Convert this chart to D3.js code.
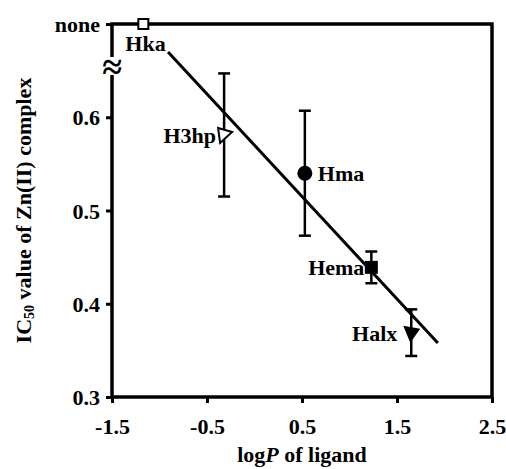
<!DOCTYPE html>
<html>
<head>
<meta charset="utf-8">
<script src="https://cdn.jsdelivr.net/npm/d3@7/dist/d3.min.js"></script>
<style>
  body { margin: 0; background: #fff; }
  svg text { font-family: "Liberation Serif", "Times New Roman", serif; font-weight: bold; fill: #000; }
</style>
</head>
<body>
<svg id="chart" width="506" height="469"></svg>
<script>
//Data
const ligands = ["Hka", "H3hp", "Hma", "Hema", "Halx"];
const logP = [-1.17, -0.32, 0.53, 1.23, 1.65];
const ic50 = [0.7, 0.581, 0.540, 0.439, 0.369];   //Hka has no activity ("none" row)
const ic50Err = [0, 0.066, 0.067, 0.017, 0.025];
const markers = ["openSquare", "openTriRight", "circle", "square", "triDown"];

//Regression line end points
const fitX = [-0.91, 1.93];
const fitY = [0.670, 0.358];

const xTicks = [-1.5, -0.5, 0.5, 1.5, 2.5];
const yTicks = [0.3, 0.4, 0.5, 0.6];
const yTopLabel = "none";

//Layout
const margin = {left: 112, top: 24, right: 14, bottom: 72};
const width = 506 - margin.left - margin.right;
const height = 469 - margin.top - margin.bottom;

var svg = d3.select("#chart");
var g = svg.append("g")
    .attr("transform", "translate(" + margin.left + "," + margin.top + ")");

var x = d3.scaleLinear().domain([-1.5, 2.5]).range([0, width]);
var y = d3.scaleLinear().domain([0.3, 0.7]).range([height, 0]);

//plain hyphen for negatives, like the original
var fmt = function(d) { return d.toFixed(1); };

//Frame
g.append("rect")
    .attr("width", width)
    .attr("height", height)
    .attr("fill", "none")
    .attr("stroke", "black")
    .attr("stroke-width", 3.5);

//X axis
var xAxis = g.append("g")
    .attr("transform", "translate(0," + height + ")")
    .call(d3.axisBottom(x).tickValues(xTicks).tickSize(6).tickPadding(15).tickFormat(fmt));
xAxis.select(".domain").remove();
xAxis.selectAll(".tick line").attr("stroke-width", 3);
xAxis.selectAll(".tick text").style("font-size", "22px");

//Y axis
var yAxis = g.append("g")
    .call(d3.axisLeft(y).tickValues(yTicks.concat([0.7])).tickSize(6).tickPadding(6)
        .tickFormat(function(d) { return d === 0.7 ? yTopLabel : fmt(d); }));
yAxis.select(".domain").remove();
yAxis.selectAll(".tick line").attr("stroke-width", 3);
yAxis.selectAll(".tick text").style("font-size", "22px").attr("dy", "0.35em");

//Axis break on the left
var breakY = y(0.655);
g.append("rect")
    .attr("x", -6).attr("y", breakY - 9)
    .attr("width", 12).attr("height", 18)
    .attr("fill", "white");
g.append("text")
    .attr("x", 0).attr("y", breakY)
    .attr("dy", "0.35em")
    .attr("text-anchor", "middle")
    .style("font-size", "36px")
    .text("\u2248");

//Regression line
g.append("line")
    .attr("x1", x(fitX[0])).attr("y1", y(fitY[0]))
    .attr("x2", x(fitX[1])).attr("y2", y(fitY[1]))
    .attr("stroke", "black")
    .attr("stroke-width", 3);

//Error bars
var pts = ligands.map(function(name, i) {
    return {name: name, x: logP[i], y: ic50[i], err: ic50Err[i], marker: markers[i]};
});
var bars = g.selectAll(".err")
    .data(pts.filter(function(d) { return d.err > 0; }))
    .enter().append("g")
    .attr("class", "err")
    .attr("stroke", "black")
    .attr("stroke-width", 2.5);
bars.append("line")
    .attr("x1", function(d) { return x(d.x); })
    .attr("x2", function(d) { return x(d.x); })
    .attr("y1", function(d) { return y(d.y + d.err); })
    .attr("y2", function(d) { return y(d.y - d.err); });
[1, -1].forEach(function(s) {
    bars.append("line")
        .attr("x1", function(d) { return x(d.x) - 6; })
        .attr("x2", function(d) { return x(d.x) + 6; })
        .attr("y1", function(d) { return y(d.y + s * d.err); })
        .attr("y2", function(d) { return y(d.y + s * d.err); });
});

//Markers
pts.forEach(function(d) {
    var cx = x(d.x), cy = y(d.y);
    if (d.marker === "circle") {
        g.append("circle").attr("cx", cx).attr("cy", cy).attr("r", 7.5).attr("fill", "black");
    } else if (d.marker === "square") {
        g.append("rect").attr("x", cx - 6.5).attr("y", cy - 6.5).attr("width", 13).attr("height", 13).attr("fill", "black");
    } else if (d.marker === "openSquare") {
        g.append("rect").attr("x", cx - 5).attr("y", cy - 5).attr("width", 10).attr("height", 10)
            .attr("fill", "white").attr("stroke", "black").attr("stroke-width", 2);
    } else if (d.marker === "openTriRight") {
        g.append("path")
            .attr("d", "M" + (cx - 6) + "," + (cy - 7) + "L" + (cx + 8) + "," + (cy - 3) + "L" + (cx - 4) + "," + (cy + 8) + "Z")
            .attr("fill", "white").attr("stroke", "black").attr("stroke-width", 2);
    } else if (d.marker === "triDown") {
        g.append("path")
            .attr("d", "M" + (cx - 8) + "," + (cy - 7) + "L" + (cx + 9) + "," + (cy - 4) + "L" + (cx - 1) + "," + (cy + 10) + "Z")
            .attr("fill", "black");
    }
});

//Point labels
var labelPos = {
    "Hka":  {dx: -18, dy: 27, anchor: "start"},
    "H3hp": {dx: -8, dy: 8, anchor: "end"},
    "Hma":  {dx: 13, dy: 8, anchor: "start"},
    "Hema": {dx: -7, dy: 8, anchor: "end"},
    "Halx": {dx: -14, dy: 8, anchor: "end"}
};
g.selectAll(".lbl")
    .data(pts)
    .enter().append("text")
    .attr("class", "lbl")
    .attr("x", function(d) { return x(d.x) + labelPos[d.name].dx; })
    .attr("y", function(d) { return y(d.y) + labelPos[d.name].dy; })
    .attr("text-anchor", function(d) { return labelPos[d.name].anchor; })
    .style("font-size", "22px")
    .text(function(d) { return d.name; });

//Axis titles
var xt = svg.append("text")
    .attr("x", margin.left + width / 2)
    .attr("y", 462)
    .attr("text-anchor", "middle")
    .style("font-size", "22px");
xt.append("tspan").text("log");
xt.append("tspan").style("font-style", "italic").text("P");
xt.append("tspan").text(" of ligand");

var yt = svg.append("text")
    .attr("transform", "translate(31," + (margin.top + height / 2) + ")rotate(-90)")
    .attr("text-anchor", "middle")
    .style("font-size", "22px");
yt.append("tspan").text("IC");
yt.append("tspan").style("font-size", "14px").attr("dy", 3).text("50");
yt.append("tspan").attr("dy", -3).text(" value of Zn(II) complex");
</script>
</body>
</html>
